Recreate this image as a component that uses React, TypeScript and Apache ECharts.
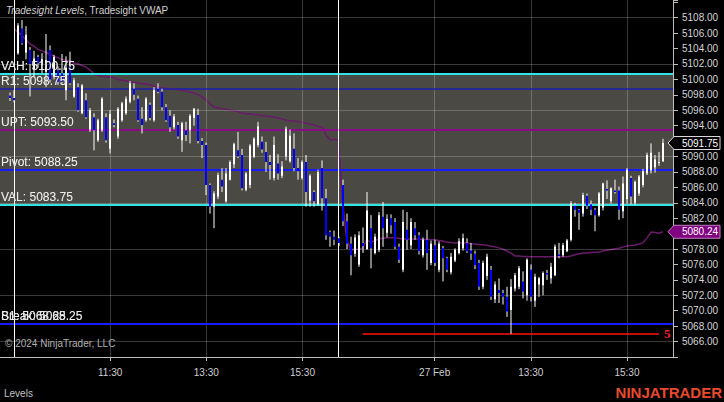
import React, { useEffect, useRef } from "react";
import * as echarts from "echarts";

// ---------- data ----------
const sessionDays = ["26 Feb", "27 Feb"];
const slotCount = 168;
const barStart = 2; // first bar's slot index

const opens = [
  5097.9, 5097.6, 5103.4, 5106.6, 5103.5, 5103.8, 5101.3, 5102.9, 5101.8, 5101.0,
  5103.8, 5100.3, 5101.2, 5100.8, 5098.6, 5101.6, 5097.8, 5099.0, 5095.6, 5097.3,
  5093.5, 5095.1, 5092.1, 5093.4, 5095.1, 5091.0, 5094.3, 5092.6, 5094.7, 5095.6,
  5097.1, 5098.8, 5097.5, 5094.9, 5094.7, 5096.7, 5094.7, 5098.8, 5098.4, 5096.4,
  5095.3, 5093.8, 5094.1, 5092.1, 5093.4, 5093.4, 5095.0, 5095.4, 5092.0, 5091.5,
  5086.3, 5083.5, 5084.8, 5087.0, 5084.2, 5087.0, 5089.0, 5090.8, 5090.2, 5085.7,
  5086.3, 5090.0, 5091.5, 5091.9, 5090.6, 5089.3, 5087.2, 5089.1, 5087.5, 5090.0,
  5089.4, 5091.0, 5088.5, 5087.2, 5089.3, 5084.3, 5085.4, 5083.8, 5088.5, 5084.6,
  5080.2, 5079.6, 5079.4, 5086.3, 5081.6, 5078.7, 5077.4, 5076.0, 5078.8, 5078.0,
  5080.7, 5077.5, 5077.9, 5082.2, 5080.1, 5082.0, 5081.5, 5078.3, 5075.3, 5080.5,
  5078.5, 5080.7, 5079.8, 5077.2, 5079.2, 5076.2, 5078.5, 5075.3, 5078.1, 5076.8,
  5075.0, 5076.5, 5077.5, 5078.1, 5078.8, 5077.8, 5077.4, 5076.2, 5073.1, 5074.5,
  5075.3, 5071.5, 5072.7, 5072.3, 5071.8, 5070.1, 5072.9, 5073.1, 5073.8, 5072.0,
  5075.3, 5071.3, 5073.4, 5073.3, 5074.9, 5074.2, 5074.6, 5077.3, 5077.2, 5077.7,
  5079.2, 5083.6, 5083.1, 5082.6, 5084.9, 5083.8, 5083.1, 5082.4, 5083.4, 5085.8,
  5084.2, 5085.6, 5085.6, 5082.9, 5084.5, 5087.2, 5084.0, 5085.2, 5086.3, 5087.8,
  5088.2, 5088.6, 5089.2, 5089.4,
];
const closes = [
  5097.6, 5097.3, 5107.0, 5104.7, 5105.8, 5102.0, 5102.7, 5102.1, 5102.6, 5102.5,
  5100.0, 5102.9, 5099.7, 5099.7, 5101.5, 5099.5, 5099.9, 5096.0, 5099.2, 5095.1,
  5096.0, 5093.4, 5094.7, 5097.5, 5092.1, 5095.5, 5094.1, 5096.2, 5096.9, 5097.5,
  5099.5, 5098.0, 5094.7, 5094.1, 5097.5, 5095.0, 5098.6, 5098.4, 5096.4, 5094.7,
  5093.8, 5095.2, 5092.6, 5094.3, 5092.8, 5095.3, 5096.2, 5092.0, 5091.5, 5086.3,
  5083.5, 5085.2, 5087.6, 5086.1, 5087.8, 5089.3, 5091.6, 5090.0, 5085.9, 5087.8,
  5091.4, 5092.3, 5093.9, 5090.9, 5089.3, 5088.9, 5091.5, 5087.8, 5088.7, 5093.6,
  5092.7, 5088.5, 5088.1, 5089.3, 5085.4, 5087.5, 5084.2, 5088.0, 5084.6, 5079.8,
  5079.6, 5079.2, 5078.8, 5081.6, 5078.7, 5077.2, 5079.5, 5079.8, 5078.4, 5083.0,
  5078.1, 5079.6, 5082.4, 5080.7, 5081.9, 5081.1, 5078.3, 5076.6, 5081.5, 5079.2,
  5081.5, 5079.8, 5077.7, 5079.2, 5077.5, 5078.7, 5076.2, 5078.7, 5076.8, 5075.3,
  5077.0, 5077.9, 5079.0, 5079.4, 5077.7, 5077.4, 5075.9, 5073.1, 5076.2, 5077.0,
  5071.8, 5073.4, 5072.3, 5071.8, 5069.9, 5073.1, 5074.6, 5075.5, 5072.5, 5076.6,
  5071.8, 5074.4, 5074.2, 5074.9, 5074.7, 5075.7, 5078.3, 5077.1, 5078.5, 5079.1,
  5083.9, 5083.1, 5082.7, 5085.0, 5083.6, 5083.1, 5082.4, 5085.2, 5086.5, 5085.6,
  5085.9, 5085.4, 5083.1, 5086.5, 5088.3, 5084.8, 5086.7, 5087.4, 5088.1, 5090.2,
  5090.5, 5089.6, 5089.3, 5091.75,
];
const lows = [
  5097.2, 5097.0, 5103.2, 5104.5, 5102.6, 5097.8, 5100.3, 5101.5, 5100.8, 5099.0,
  5099.6, 5100.0, 5099.3, 5099.5, 5097.3, 5099.3, 5097.6, 5095.8, 5095.5, 5094.9,
  5093.2, 5090.8, 5091.9, 5093.2, 5091.8, 5090.4, 5093.8, 5092.3, 5094.5, 5095.4,
  5096.9, 5097.3, 5094.5, 5093.0, 5094.5, 5094.7, 5094.5, 5098.2, 5096.0, 5094.5,
  5093.2, 5093.5, 5092.3, 5090.6, 5092.0, 5091.7, 5094.0, 5091.7, 5089.8, 5085.0,
  5082.6, 5080.7, 5084.5, 5085.4, 5084.0, 5086.9, 5088.5, 5089.8, 5085.6, 5085.5,
  5085.9, 5089.8, 5091.2, 5090.5, 5088.0, 5087.0, 5086.9, 5087.0, 5087.2, 5089.5,
  5089.2, 5088.1, 5087.0, 5087.0, 5083.5, 5083.5, 5083.5, 5083.6, 5083.0, 5079.2,
  5078.3, 5078.5, 5078.4, 5081.0, 5078.0, 5074.6, 5077.0, 5075.7, 5077.5, 5077.9,
  5075.5, 5077.3, 5077.6, 5078.3, 5079.5, 5080.0, 5078.0, 5076.2, 5075.0, 5077.9,
  5078.0, 5079.2, 5077.3, 5076.9, 5075.3, 5075.9, 5075.8, 5075.0, 5073.8, 5075.0,
  5074.7, 5076.3, 5077.3, 5077.8, 5077.5, 5076.6, 5075.4, 5072.7, 5072.8, 5074.0,
  5071.4, 5071.0, 5071.0, 5070.8, 5069.2, 5067.0, 5072.5, 5072.8, 5071.6, 5071.3,
  5071.2, 5070.5, 5071.8, 5072.0, 5074.0, 5073.5, 5074.5, 5076.8, 5077.0, 5077.6,
  5079.0, 5082.2, 5080.5, 5082.2, 5083.2, 5082.4, 5080.3, 5082.2, 5083.0, 5084.5,
  5083.9, 5085.2, 5081.8, 5082.0, 5083.9, 5083.8, 5083.7, 5084.9, 5086.0, 5087.6,
  5087.8, 5087.9, 5088.8, 5089.3,
];
const highs = [
  5098.3, 5098.6, 5107.3, 5107.7, 5106.9, 5104.2, 5103.7, 5103.2, 5103.4, 5105.9,
  5104.4, 5103.2, 5101.7, 5103.3, 5103.0, 5103.6, 5100.2, 5099.5, 5099.4, 5098.2,
  5096.3, 5095.6, 5094.9, 5097.7, 5095.6, 5096.0, 5094.8, 5096.4, 5097.1, 5097.8,
  5099.8, 5099.5, 5097.9, 5096.4, 5097.7, 5097.0, 5099.0, 5099.5, 5098.8, 5096.8,
  5096.0, 5095.5, 5094.5, 5094.5, 5094.5, 5095.5, 5096.3, 5096.2, 5092.4, 5091.8,
  5086.5, 5085.5, 5087.9, 5088.5, 5088.5, 5089.5, 5091.8, 5093.2, 5091.0, 5088.0,
  5091.6, 5092.5, 5094.5, 5092.6, 5091.9, 5090.2, 5092.6, 5090.3, 5089.4, 5093.9,
  5093.5, 5093.0, 5089.8, 5089.5, 5090.2, 5087.7, 5085.6, 5088.3, 5089.5, 5085.8,
  5080.4, 5080.4, 5079.6, 5087.0, 5082.6, 5079.6, 5079.9, 5080.3, 5080.8, 5085.4,
  5082.4, 5080.0, 5082.8, 5084.1, 5082.5, 5082.5, 5082.0, 5078.7, 5083.1, 5082.8,
  5082.0, 5081.5, 5080.2, 5079.5, 5080.5, 5079.1, 5079.2, 5079.0, 5078.4, 5077.0,
  5077.5, 5078.1, 5079.4, 5080.0, 5079.4, 5078.8, 5077.8, 5076.6, 5076.5, 5077.4,
  5075.8, 5073.8, 5074.2, 5072.7, 5073.1, 5074.1, 5074.9, 5075.8, 5075.1, 5076.8,
  5076.0, 5074.8, 5074.4, 5075.1, 5075.3, 5076.2, 5078.6, 5078.8, 5078.8, 5079.3,
  5084.2, 5084.0, 5083.2, 5085.3, 5085.2, 5084.3, 5083.3, 5085.4, 5086.6, 5086.9,
  5086.0, 5087.0, 5086.1, 5087.4, 5088.5, 5087.5, 5086.9, 5087.6, 5088.4, 5090.5,
  5091.7, 5090.2, 5090.6, 5092.3,
];

const vwapStart = 3; // slot index of first VWAP point
const vwap = [
  5106.6, 5106.1, 5105.7, 5105.1, 5104.6, 5104.3, 5103.9, 5103.7, 5103.5, 5103.3,
  5103.0, 5102.8, 5102.6, 5102.5, 5102.4, 5102.1, 5102.0, 5101.8, 5101.6, 5101.2,
  5100.7, 5100.5, 5100.4, 5100.35, 5100.3, 5100.2, 5100.0, 5099.9, 5099.8, 5099.7,
  5099.65, 5099.5, 5099.45, 5099.4, 5099.3, 5099.1, 5099.0, 5098.9, 5098.85, 5098.8,
  5098.75, 5098.7, 5098.6, 5098.5, 5098.35, 5098.2, 5098.0, 5097.7, 5097.3, 5096.8,
  5096.4, 5096.3, 5096.2, 5096.15, 5096.0, 5095.95, 5095.8, 5095.6, 5095.55, 5095.5,
  5095.45, 5095.4, 5095.3, 5095.25, 5095.2, 5095.1, 5095.0, 5094.85, 5094.7, 5094.65,
  5094.6, 5094.5, 5094.45, 5094.3, 5094.2, 5094.05, 5093.9, 5093.8, 5092.65, 5092.1,
  5092.25, 5092.1, 5084.2, 5079.4, 5077.9, 5077.95, 5078.0, 5078.1, 5079.2, 5078.9,
  5079.05, 5079.3, 5079.4, 5079.45, 5079.45, 5079.45, 5079.4, 5079.3, 5079.3, 5079.3,
  5079.3, 5079.3, 5079.25, 5079.25, 5079.2, 5079.2, 5079.1, 5079.05, 5078.9, 5078.85,
  5078.8, 5078.8, 5078.8, 5078.8, 5078.7, 5078.65, 5078.6, 5078.55, 5078.5, 5078.35,
  5078.3, 5078.15, 5078.0, 5077.75, 5077.5, 5077.1, 5077.1, 5077.05, 5077.05, 5077.0,
  5077.0, 5077.0, 5077.0, 5077.0, 5077.0, 5077.0, 5077.0, 5077.0, 5077.0, 5077.1,
  5077.25, 5077.4, 5077.5, 5077.5, 5077.55, 5077.6, 5077.6, 5077.75, 5077.85, 5077.95,
  5078.05, 5078.1, 5078.25, 5078.4, 5078.45, 5078.5, 5078.65, 5078.8, 5079.45, 5080.2,
  5080.15, 5080.05, 5080.24,
];

const gridPrices = [5066, 5072, 5078, 5084, 5090, 5096, 5102, 5108];
const tickIndices = [27, 51, 75, 108, 132, 156];
const tickLabels = ["11:30", "13:30", "15:30", "27 Feb", "13:30", "15:30"];
const sessionBreaks = [3, 84];

const levelNames = ["VAH", "R1", "UPT", "Pivot", "VAL", "S1", "Break"];
const levelValues = [5100.75, 5098.75, 5093.5, 5088.25, 5083.75, 5068.25, 5068.25];
const valueArea = [5100.75, 5083.75];

const swingLow = 5067;
const swingLabel = "5";
const swingFrom = 90;
const swingTo = 164;

// ---------- styles ----------
const FONT = "'Liberation Sans', Arial, sans-serif";
const levelColors: Record<string, string> = {
  VAH: "#2fe4e4",
  R1: "#1c1cb0",
  UPT: "#8a0a8a",
  Pivot: "#1a1aff",
  VAL: "#2fe4e4",
  S1: "#1a1aff",
  Break: "#1a1aff",
};
const levelWidths: Record<string, number> = {
  VAH: 2, R1: 1.5, UPT: 2, Pivot: 2, VAL: 2, S1: 2, Break: 2,
};

// categories: 5-minute bar times
const categories: string[] = [];
for (let k = 0; k < slotCount; k++) {
  const day = k < sessionBreaks[1] ? 0 : 1;
  const mins = 9 * 60 + 30 + 5 * (k - sessionBreaks[day]);
  const hh = String(Math.floor(mins / 60)).padStart(2, "0");
  const mm = String(((mins % 60) + 60) % 60).padStart(2, "0");
  categories.push(`${sessionDays[day]} ${hh}:${mm}`);
}
const labelByCat = new Map<string, string>(
  tickIndices.map((k, i) => [categories[k], tickLabels[i]])
);
const tickSet = new Set(tickIndices);

export default function App() {
  const ref = useRef<HTMLDivElement>(null);

  useEffect(() => {
    if (!ref.current) return;
    const chart = echarts.init(ref.current, undefined, { renderer: "svg" });

    const lastPrice = closes[closes.length - 1];
    const lastVwap = vwap[vwap.length - 1];
    const badgeValues = [lastPrice, lastVwap];

    const candleData = opens.map((o, i) => [barStart + i, o, closes[i], lows[i], highs[i]]);
    const vwapData = categories.map((_, k) => {
      const v = vwap[k - vwapStart];
      return v === undefined ? null : v;
    });

    const option: any = {
      animation: false,
      backgroundColor: "#000000",
      grid: { left: 0, top: 0, right: 51, bottom: 45 },
      xAxis: {
        type: "category",
        data: categories,
        boundaryGap: true,
        axisLine: { show: true, lineStyle: { color: "#bdbdbd", width: 1 } },
        axisTick: {
          show: true,
          alignWithLabel: true,
          length: 4,
          interval: (idx: number) => tickSet.has(idx),
          lineStyle: { color: "#bdbdbd" },
        },
        axisLabel: {
          interval: (idx: number) => tickSet.has(idx),
          formatter: (v: string) => labelByCat.get(v) ?? "",
          color: "#cfcfcf",
          fontSize: 10,
          fontFamily: FONT,
          margin: 10,
        },
        splitLine: { show: false },
      },
      yAxis: {
        type: "value",
        position: "right",
        min: 5064,
        max: 5110.3,
        interval: 2,
        axisLine: { show: true, lineStyle: { color: "#bdbdbd", width: 1 } },
        axisTick: { show: true, length: 5, lineStyle: { color: "#bdbdbd" } },
        axisLabel: {
          color: "#d6d6d6",
          fontSize: 10,
          fontFamily: FONT,
          margin: 9,
          formatter: (v: number) => {
            if (!(v >= 5066 && v <= 5108 && Math.abs(v % 2) < 1e-6)) return "";
            // labels hidden beneath the last-value badges
            if (badgeValues.some((b) => Math.abs(b - v) < 1.1)) return "";
            return v.toFixed(2);
          },
        },
        splitLine: { show: false },
      },
      series: [
        {
          name: "valueArea",
          type: "line",
          data: [],
          z: 1,
          silent: true,
          markArea: {
            silent: true,
            itemStyle: { color: "#4a4943", opacity: 1 },
            data: [[{ yAxis: valueArea[0] }, { yAxis: valueArea[1] }]],
          },
        },
        {
          name: "gridLines",
          type: "line",
          data: [],
          z: 2,
          silent: true,
          markLine: {
            silent: true,
            symbol: ["none", "none"],
            label: { show: false },
            lineStyle: { color: "rgba(255,255,255,0.22)", width: 1, type: "solid" },
            data: [
              ...gridPrices.map((p) => ({ yAxis: p })),
              ...tickIndices.map((k) => ({ xAxis: categories[k] })),
            ],
          },
        },
        {
          name: "levels",
          type: "line",
          data: [],
          z: 3,
          silent: true,
          markLine: {
            silent: true,
            symbol: ["none", "none"],
            data: levelNames.map((n, i) => ({
              yAxis: levelValues[i],
              lineStyle: { color: levelColors[n], width: levelWidths[n], type: "solid" },
              label: {
                show: true,
                position: "insideStartTop",
                distance: [1, 2],
                formatter: `${n}: ${levelValues[i].toFixed(2)}`,
                color: "#eeeeee",
                fontSize: 12,
                fontFamily: FONT,
                textShadowColor: "rgba(0,0,0,0.8)",
                textShadowBlur: 1,
              },
            })),
          },
        },
        {
          name: "sessions",
          type: "line",
          data: [],
          z: 3,
          silent: true,
          markLine: {
            silent: true,
            symbol: ["none", "none"],
            label: { show: false },
            lineStyle: { color: "#ffffff", width: 1, type: "solid" },
            data: sessionBreaks.map((k) => ({ xAxis: categories[k] })),
          },
        },
        {
          name: "Tradesight VWAP",
          type: "line",
          data: vwapData,
          z: 4,
          symbol: "none",
          connectNulls: false,
          lineStyle: { color: "#6a1a6a", width: 1.5 },
          silent: true,
        },
        {
          name: "price",
          type: "custom",
          z: 5,
          silent: true,
          data: candleData,
          encode: { x: 0, y: [1, 2, 3, 4] },
          renderItem: (_params: any, api: any) => {
            const k = api.value(0);
            const o = api.value(1);
            const c = api.value(2);
            const l = api.value(3);
            const h = api.value(4);
            const pO = api.coord([k, o]);
            const pC = api.coord([k, c]);
            const pL = api.coord([k, l]);
            const pH = api.coord([k, h]);
            const cx = Math.round(pO[0]) - 1;
            const up = c >= o;
            const top = Math.min(pO[1], pC[1]);
            const bh = Math.max(Math.abs(pO[1] - pC[1]), 1);
            return {
              type: "group",
              children: [
                {
                  type: "line",
                  shape: { x1: cx + 1, y1: pH[1], x2: cx + 1, y2: pL[1] },
                  style: { stroke: "#ffffff", lineWidth: 1 },
                },
                {
                  type: "rect",
                  shape: { x: cx, y: top, width: 2, height: bh },
                  style: { fill: up ? "#ffffff" : "#0000ff" },
                },
              ],
            };
          },
        },
        {
          name: "swing",
          type: "line",
          data: [],
          z: 6,
          silent: true,
          markLine: {
            silent: true,
            symbol: ["none", "none"],
            lineStyle: { color: "#ff1010", width: 1.5, type: "solid" },
            label: {
              show: true,
              position: "end",
              distance: 5,
              formatter: swingLabel,
              color: "#ff2020",
              fontSize: 13,
              fontWeight: "bold",
              fontFamily: "'Liberation Serif', 'DejaVu Serif', serif",
            },
            data: [
              [
                { coord: [categories[swingFrom], swingLow] },
                { coord: [categories[swingTo], swingLow] },
              ],
            ],
          },
        },
      ],
    };
    chart.setOption(option);

    const yP = chart.convertToPixel({ yAxisIndex: 0 }, lastPrice) as number;
    const yV = chart.convertToPixel({ yAxisIndex: 0 }, lastVwap) as number;
    const badge = (y: number, fill: string, stroke: string, text: string) => [
      {
        type: "polygon",
        shape: {
          points: [
            [668, y],
            [674, y - 6.5],
            [720, y - 6.5],
            [720, y + 6.5],
            [674, y + 6.5],
          ],
        },
        style: { fill, stroke, lineWidth: 1 },
        z: 100,
      },
      {
        type: "text",
        x: 700,
        y,
        style: {
          text,
          fill: "#ffffff",
          font: `10px ${FONT}`,
          align: "center",
          verticalAlign: "middle",
        },
        z: 101,
      },
    ];

    chart.setOption({
      graphic: [
        {
          type: "text",
          x: 6,
          y: 5,
          style: {
            text: "{i|Tradesight Levels}{n|, Tradesight VWAP}",
            rich: {
              i: { fontStyle: "italic", fill: "#d0d0d0", fontSize: 10, fontFamily: FONT },
              n: { fill: "#d0d0d0", fontSize: 10, fontFamily: FONT },
            },
          },
          z: 100,
        },
        {
          type: "text",
          x: 5,
          y: 343,
          style: {
            text: "© 2024 NinjaTrader, LLC",
            fill: "#b0b0b0",
            font: `10px ${FONT}`,
            verticalAlign: "middle",
          },
          z: 100,
        },
        {
          type: "text",
          x: 4,
          y: 393,
          style: {
            text: "Levels",
            fill: "#c4c4c4",
            font: `10px ${FONT}`,
            verticalAlign: "middle",
          },
          z: 100,
        },
        {
          type: "text",
          x: 722,
          y: 392,
          style: {
            text: "NINJATRADER",
            fill: "#e84a2c",
            font: `bold 15px ${FONT}`,
            align: "right",
            verticalAlign: "middle",
          },
          z: 100,
        },
        ...badge(yP, "#000000", "#e0e0e0", lastPrice.toFixed(2)),
        ...badge(yV, "#800080", "#c080c0", lastVwap.toFixed(2)),
      ],
    });

    return () => chart.dispose();
  }, []);

  return (
    <div
      ref={ref}
      style={{
        position: "absolute",
        left: 0,
        top: 0,
        width: 724,
        height: 402,
        background: "#000",
      }}
    />
  );
}
